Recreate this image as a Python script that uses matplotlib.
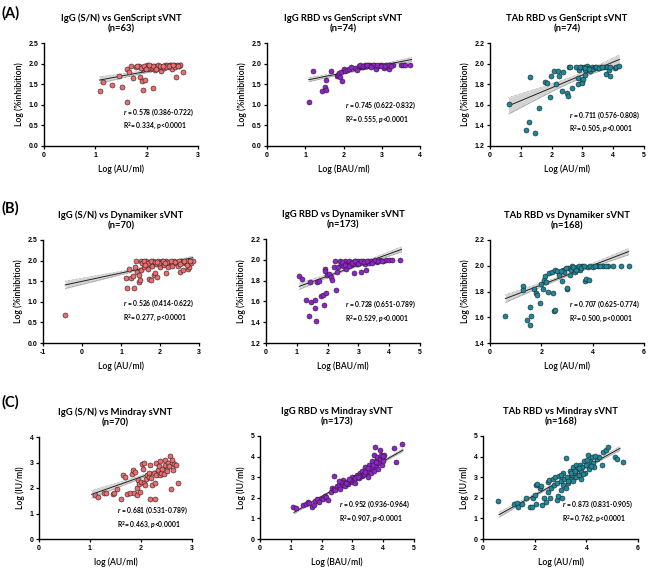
import matplotlib
matplotlib.use('Agg')
import matplotlib.pyplot as plt
import numpy as np

plt.rcParams['font.family'] = ['Lato', 'DejaVu Sans']
plt.rcParams['mathtext.fontset'] = 'custom'
plt.rcParams['mathtext.rm'] = 'Lato:bold'
plt.rcParams['mathtext.it'] = 'Lato:italic:bold'
plt.rcParams['mathtext.bf'] = 'Lato:bold'

# ---- data ----
# row A: GenScript sVNT
a1_x = [1.10, 1.15, 1.33, 1.47, 1.52, 1.62, 1.62, 1.66, 1.70, 1.74, 1.80, 1.85, 1.87, 1.90, 1.93,
        1.96, 1.93, 1.97, 2.00, 2.03, 2.06, 2.08, 2.10, 2.12, 2.15, 2.17, 2.20, 2.22, 2.25, 2.28,
        2.30, 2.33, 2.36, 2.40, 2.43, 2.46, 2.50, 2.53, 2.56, 2.58, 2.60, 2.63, 2.65, 2.70, 1.88,
        1.95, 2.02, 2.13, 2.18, 2.26, 2.38, 2.48, 2.55, 2.62, 1.82, 1.99, 2.05, 2.32, 2.44, 2.52]
a1_y = [1.34, 1.56, 1.47, 1.71, 1.43, 1.06, 1.87, 1.80, 1.95, 1.65, 1.92, 1.94, 1.68, 1.58, 1.35,
        1.61, 1.88, 1.90, 1.97, 1.92, 1.86, 1.95, 1.90, 1.40, 1.95, 1.84, 1.92, 1.97, 1.87, 1.83,
        1.92, 1.90, 1.96, 1.97, 1.92, 1.96, 1.88, 1.97, 1.94, 1.68, 1.97, 1.95, 1.97, 1.80, 1.90,
        1.94, 1.89, 1.93, 1.88, 1.95, 1.92, 1.97, 1.92, 1.93, 1.95, 1.87, 1.97, 1.95, 1.94, 1.96]

a2_x = [1.09, 1.20, 1.45, 1.51, 1.53, 1.55, 1.67, 1.82, 1.86, 1.88, 1.90, 1.93, 1.95, 2.00, 2.05,
        2.10, 2.15, 2.30, 2.35, 2.40, 2.45, 2.50, 2.55, 2.60, 2.65, 2.70, 2.75, 2.80, 2.85, 2.90,
        2.95, 3.00, 3.05, 3.10, 3.15, 3.20, 3.22, 3.30, 3.50, 3.55, 3.60, 3.75, 2.42, 2.52, 2.58,
        2.68, 2.78, 2.88, 2.98, 3.08, 3.18, 3.25, 2.20, 2.62, 2.72]
a2_y = [1.07, 1.82, 1.33, 1.43, 1.36, 1.60, 1.81, 1.70, 1.73, 1.77, 1.68, 1.80, 1.57, 1.87, 1.83,
        1.84, 1.86, 1.90, 1.85, 1.93, 1.95, 1.92, 1.97, 1.94, 1.97, 1.97, 1.94, 1.97, 1.88, 1.95,
        1.97, 1.97, 1.90, 1.97, 1.92, 1.88, 1.96, 1.97, 1.97, 1.96, 1.97, 1.97, 1.96, 1.95, 1.93,
        1.95, 1.96, 1.97, 1.94, 1.95, 1.97, 1.93, 1.91, 1.96, 1.92]

a3_x = [0.63, 1.17, 1.25, 1.30, 1.45, 1.58, 1.78, 1.85, 1.95, 1.97, 2.08, 2.15, 2.20, 2.25, 2.35,
        2.38, 2.50, 2.53, 2.55, 2.60, 2.65, 2.80, 2.85, 2.87, 2.90, 2.95, 3.00, 3.00, 3.02, 3.05,
        3.10, 3.10, 3.15, 3.20, 3.25, 3.30, 3.35, 3.40, 3.50, 3.60, 3.70, 3.75, 3.80, 3.85, 3.88,
        3.90, 4.05, 4.10, 4.20, 2.92, 3.08, 3.22, 3.45, 3.55, 3.65]
a3_y = [1.61, 1.36, 1.43, 1.87, 1.33, 1.57, 1.82, 1.81, 1.68, 1.88, 1.93, 1.80, 1.93, 1.88, 1.73,
        1.92, 1.71, 1.69, 1.97, 1.97, 1.76, 1.97, 1.80, 1.86, 1.94, 1.97, 1.83, 1.81, 1.85, 1.97,
        1.89, 1.94, 1.98, 1.96, 1.93, 1.97, 1.95, 1.97, 1.96, 1.97, 1.97, 1.90, 1.97, 1.94, 1.88,
        1.97, 1.96, 1.97, 1.98, 1.97, 1.96, 1.95, 1.97, 1.96, 1.97]

# row B: Dynamiker sVNT
b1_x = [-0.43, 1.13, 1.15, 1.20, 1.25, 1.30, 1.33, 1.35, 1.38, 1.42, 1.45, 1.47, 1.48, 1.50, 1.52,
        1.55, 1.60, 1.65, 1.70, 1.72, 1.75, 1.78, 1.80, 1.82, 1.85, 1.88, 1.90, 1.92, 1.95, 2.00,
        2.02, 2.05, 2.10, 2.15, 2.15, 2.20, 2.25, 2.30, 2.35, 2.40, 2.45, 2.50, 2.50, 2.55, 2.60,
        2.65, 2.70, 2.72, 2.75, 2.80, 2.85, 1.58, 1.68, 1.78, 1.88, 1.98, 2.08, 2.18, 2.28, 2.38,
        2.48, 2.58, 2.68, 2.78, 1.62, 1.92, 2.12, 2.32, 2.52, 2.62]
b1_y = [0.68, 1.58, 1.33, 1.80, 1.58, 1.62, 1.33, 1.85, 1.98, 1.72, 1.65, 1.48, 1.53, 1.78, 1.98,
        1.93, 1.85, 1.98, 1.80, 1.55, 1.96, 1.53, 1.88, 1.98, 1.65, 1.70, 1.92, 1.60, 1.98, 1.85,
        1.95, 1.98, 1.90, 1.98, 1.70, 1.85, 1.97, 1.92, 1.98, 1.95, 1.88, 1.97, 1.73, 1.98, 1.76,
        1.93, 1.98, 1.80, 1.85, 1.93, 2.00, 1.98, 1.95, 1.98, 1.97, 1.93, 1.98, 1.96, 1.98, 1.97,
        1.98, 1.96, 1.90, 1.98, 1.90, 1.96, 1.94, 1.88, 1.92, 1.98]

b2_x = [1.08, 1.18, 1.30, 1.40, 1.43, 1.45, 1.58, 1.60, 1.62, 1.65, 1.72, 1.80, 1.85, 1.88, 1.90,
        1.92, 1.95, 1.97, 2.05, 2.10, 2.15, 2.20, 2.25, 2.28, 2.30, 2.35, 2.40, 2.45, 2.50, 2.55,
        2.60, 2.65, 2.70, 2.75, 2.80, 2.85, 2.90, 2.95, 3.00, 3.05, 3.10, 3.15, 3.20, 3.25, 3.30,
        3.35, 3.40, 3.50, 3.60, 3.70, 3.80, 3.90, 4.00, 4.10, 4.35, 2.48, 2.58, 2.68, 2.78, 2.88,
        2.98, 3.08, 3.18, 3.28, 3.45, 3.55, 3.65, 3.75]
b2_y = [1.84, 1.82, 1.61, 1.46, 1.79, 1.59, 1.61, 1.54, 1.41, 1.79, 1.80, 1.65, 1.66, 1.57, 1.91,
        1.89, 1.68, 1.85, 1.86, 1.83, 1.81, 1.93, 1.99, 1.71, 1.88, 1.93, 1.99, 1.96, 1.94, 1.99,
        1.91, 1.97, 1.99, 1.95, 1.98, 1.87, 1.99, 1.96, 1.99, 1.97, 1.88, 1.99, 1.96, 1.90, 1.99,
        1.97, 1.99, 1.99, 1.98, 2.00, 1.99, 2.00, 2.00, 2.00, 2.00, 1.98, 1.95, 1.94, 1.97, 1.99,
        1.96, 1.99, 1.98, 1.99, 1.97, 2.00, 1.99, 1.99]

b3_x = [0.60, 1.28, 1.28, 1.45, 1.55, 1.55, 1.58, 1.70, 1.80, 1.85, 1.95, 2.00, 2.05, 2.10, 2.15,
        2.20, 2.25, 2.30, 2.40, 2.45, 2.50, 2.55, 2.55, 2.60, 2.70, 2.80, 2.85, 2.90, 3.00, 3.00,
        3.05, 3.10, 3.15, 3.20, 3.30, 3.40, 3.50, 3.60, 3.70, 3.75, 3.80, 3.85, 3.90, 4.00, 4.20,
        4.40, 4.60, 4.80, 5.10, 5.40, 2.75, 2.95, 3.25, 3.35, 3.45, 3.55, 3.65, 4.10, 4.30, 4.50]
b3_y = [1.61, 1.84, 1.81, 1.58, 1.54, 1.68, 1.61, 1.82, 1.79, 1.77, 1.71, 1.86, 1.82, 1.89, 1.92,
        1.87, 1.80, 1.94, 1.95, 1.79, 1.65, 1.66, 1.97, 1.96, 1.93, 1.88, 1.97, 1.95, 1.82, 1.83,
        1.98, 1.93, 1.97, 2.00, 1.95, 1.99, 1.97, 2.00, 1.88, 1.90, 1.99, 1.89, 2.00, 1.99, 2.00,
        2.00, 2.00, 2.00, 2.00, 2.00, 1.96, 1.98, 1.99, 1.97, 2.00, 1.98, 2.00, 2.00, 2.00, 2.00]

# row C: Mindray sVNT
c1_x = [1.10, 1.15, 1.28, 1.32, 1.45, 1.48, 1.52, 1.60, 1.65, 1.68, 1.72, 1.78, 1.82, 1.85, 1.87,
        1.88, 1.92, 1.93, 1.95, 1.97, 1.98, 2.00, 2.02, 2.03, 2.05, 2.05, 2.08, 2.10, 2.12, 2.15,
        2.15, 2.18, 2.18, 2.20, 2.22, 2.25, 2.27, 2.28, 2.30, 2.30, 2.33, 2.35, 2.37, 2.38, 2.40,
        2.42, 2.45, 2.47, 2.48, 2.50, 2.52, 2.55, 2.57, 2.58, 2.60, 2.62, 2.65, 2.68, 2.72]
c1_y = [1.72, 1.65, 1.82, 1.80, 1.75, 1.82, 1.95, 1.55, 2.50, 2.42, 1.78, 1.80, 2.55, 2.72, 1.80,
        2.62, 1.72, 2.00, 2.30, 2.15, 1.85, 2.25, 2.95, 2.75, 3.00, 2.20, 2.10, 2.35, 2.50, 2.60,
        2.45, 1.55, 2.90, 2.40, 2.10, 2.60, 2.20, 1.55, 3.00, 2.50, 2.70, 2.85, 2.50, 3.05, 2.60,
        2.75, 2.55, 2.90, 3.10, 2.65, 3.00, 2.85, 3.25, 1.95, 3.10, 2.70, 2.95, 2.90, 2.20]

c2_x = [1.08, 1.18, 1.40, 1.50, 1.55, 1.60, 1.68, 1.75, 1.80, 1.85, 1.90, 2.00, 2.05, 2.10, 2.15,
        2.20, 2.30, 2.35, 2.40, 2.40, 2.45, 2.50, 2.55, 2.60, 2.65, 2.70, 2.70, 2.75, 2.80, 2.85,
        2.90, 2.95, 3.00, 3.00, 3.05, 3.10, 3.10, 3.15, 3.20, 3.25, 3.30, 3.30, 3.35, 3.40, 3.45,
        3.50, 3.50, 3.55, 3.60, 3.60, 3.65, 3.65, 3.70, 3.70, 3.72, 3.75, 3.75, 3.80, 3.80, 3.82,
        3.85, 3.88, 3.90, 3.92, 3.95, 4.00, 4.00, 4.02, 4.35, 4.40, 4.62, 2.62, 2.78, 2.92, 3.08,
        3.22, 3.38, 3.52, 3.68, 3.78, 3.98, 2.58, 2.88, 3.18, 3.42]
c2_y = [1.55, 1.52, 1.65, 1.70, 1.80, 1.75, 1.55, 1.65, 1.85, 1.95, 1.80, 2.00, 1.95, 2.10, 2.05,
        1.90, 2.30, 2.50, 2.45, 3.05, 2.40, 2.55, 2.60, 2.45, 2.70, 2.85, 2.60, 2.55, 2.75, 2.65,
        2.80, 2.90, 2.75, 3.00, 2.85, 3.00, 2.70, 3.10, 2.95, 3.20, 3.05, 3.30, 3.10, 3.50, 3.20,
        3.30, 3.00, 3.60, 3.40, 3.20, 3.80, 3.50, 3.30, 4.10, 4.45, 3.70, 3.50, 3.90, 4.00, 3.40,
        3.70, 4.30, 3.90, 4.10, 3.60, 4.00, 3.80, 4.10, 4.40, 3.75, 4.62, 2.75, 2.70, 2.85, 2.95,
        3.05, 3.15, 3.45, 3.60, 3.75, 4.05, 2.80, 2.90, 3.00, 3.25]

c3_x = [0.60, 1.20, 1.30, 1.35, 1.50, 1.65, 1.80, 1.90, 1.95, 2.00, 2.05, 2.05, 2.10, 2.20, 2.25,
        2.30, 2.35, 2.45, 2.50, 2.50, 2.55, 2.60, 2.65, 2.70, 2.75, 2.80, 2.85, 2.85, 2.90, 2.95,
        3.00, 3.00, 3.05, 3.10, 3.10, 3.15, 3.20, 3.20, 3.25, 3.30, 3.35, 3.40, 3.45, 3.50, 3.50,
        3.55, 3.60, 3.60, 3.65, 3.70, 3.75, 3.80, 3.80, 3.85, 3.90, 3.95, 4.00, 4.05, 4.10, 4.15,
        4.20, 4.25, 4.30, 4.40, 4.50, 4.60, 4.65, 4.75, 4.85, 5.10, 5.20, 5.40, 3.02, 3.28, 3.42,
        3.58, 3.72, 3.88, 4.02, 4.18, 4.35]
c3_y = [1.83, 1.70, 1.75, 1.55, 1.72, 2.00, 1.55, 1.55, 2.00, 2.15, 1.70, 2.60, 2.65, 2.50, 2.55,
        1.65, 2.00, 1.80, 2.75, 2.30, 2.85, 2.00, 2.50, 2.90, 2.60, 3.00, 1.90, 2.70, 2.10, 3.05,
        2.40, 2.80, 2.00, 3.20, 2.60, 2.90, 3.95, 2.50, 3.00, 2.70, 3.30, 2.90, 3.10, 3.50, 2.80,
        3.20, 3.60, 3.00, 3.40, 3.10, 3.60, 3.30, 2.90, 3.50, 3.80, 3.20, 3.60, 4.10, 3.40, 3.80,
        4.00, 3.70, 3.50, 3.90, 4.00, 3.60, 4.20, 4.30, 4.45, 4.00, 3.90, 3.75, 3.10, 2.80, 3.20,
        3.30, 3.45, 3.15, 3.85, 3.55, 4.05]

# regression line ends (x0, x1, y0, y1) and 95% band half-width (left, narrowest, right)
fits = {
    'a1': (1.08, 2.70, 1.60, 1.97, (0.08, 0.03, 0.06)),
    'a2': (1.09, 3.78, 1.61, 2.10, (0.05, 0.02, 0.05)),
    'a3': (0.60, 4.20, 1.59, 2.04, (0.08, 0.025, 0.045)),
    'b1': (-0.43, 2.84, 1.41, 2.07, (0.09, 0.02, 0.04)),
    'b2': (1.08, 4.40, 1.745, 2.10, (0.03, 0.01, 0.025)),
    'b3': (0.60, 5.40, 1.745, 2.11, (0.03, 0.01, 0.025)),
    'c1': (1.03, 2.69, 1.75, 2.92, (0.15, 0.06, 0.12)),
    'c2': (1.10, 4.64, 1.29, 4.32, (0.07, 0.03, 0.07)),
    'c3': (0.62, 5.30, 1.18, 4.40, (0.12, 0.04, 0.10)),
}

titles = {
    'a1': 'IgG (S/N) vs GenScript sVNT\n(n=63)', 'a2': 'IgG RBD vs GenScript sVNT\n(n=74)',
    'a3': 'TAb RBD vs GenScript sVNT\n(n=74)',
    'b1': 'IgG (S/N) vs Dynamiker sVNT\n(n=70)', 'b2': 'IgG RBD vs Dynamiker sVNT\n(n=173)',
    'b3': 'TAb RBD vs Dynamiker sVNT\n(n=168)',
    'c1': 'IgG (S/N) vs Mindray sVNT\n(n=70)', 'c2': 'IgG RBD vs Mindray sVNT\n(n=173)',
    'c3': 'TAb RBD vs Mindray sVNT\n(n=168)',
}
stats_r = {'a1': '0.578 (0.386-0.722)', 'a2': '0.745 (0.622-0.832)', 'a3': '0.711 (0.576-0.808)',
           'b1': '0.526 (0.414-0.622)', 'b2': '0.728 (0.651-0.789)', 'b3': '0.707 (0.625-0.774)',
           'c1': '0.681 (0.531-0.789)', 'c2': '0.952 (0.936-0.964)', 'c3': '0.873 (0.831-0.905)'}
stats_r2 = {'a1': '0.334', 'a2': '0.555', 'a3': '0.505', 'b1': '0.277', 'b2': '0.529',
            'b3': '0.500', 'c1': '0.463', 'c2': '0.907', 'c3': '0.762'}
p_italic = {'a1': False, 'a2': True, 'a3': True, 'b1': False, 'b2': True, 'b3': False,
            'c1': True, 'c2': True, 'c3': False}
# vertical centre (axes fraction) of the stats block
stats_y = {'a1': 0.26, 'a2': 0.325, 'a3': 0.23, 'b1': 0.315, 'b2': 0.30, 'b3': 0.30,
           'c1': 0.21, 'c2': 0.265, 'c3': 0.265}

xlabels = {'a1': 'Log (AU/ml)', 'a2': 'Log (BAU/ml)', 'a3': 'Log (AU/ml)',
           'b1': 'Log (AU/ml)', 'b2': 'Log (BAU/ml)', 'b3': 'Log (AU/ml)',
           'c1': 'log (AU/ml)', 'c2': 'Log (BAU/ml)', 'c3': 'Log (AU/ml)'}
ylabel_row = {'a': 'Log (%inhibition)', 'b': 'Log (%inhibition)', 'c': 'Log (IU/ml)'}

xticks = {'a1': [0, 1, 2, 3], 'a2': [0, 1, 2, 3, 4], 'a3': [0, 1, 2, 3, 4, 5],
          'b1': [-1, 0, 1, 2, 3], 'b2': [0, 1, 2, 3, 4, 5], 'b3': [0, 2, 4, 6],
          'c1': [0, 1, 2, 3], 'c2': [0, 1, 2, 3, 4, 5], 'c3': [0, 2, 4, 6]}
yticks = {'a1': [0.0, 0.5, 1.0, 1.5, 2.0, 2.5], 'a2': [0.0, 0.5, 1.0, 1.5, 2.0, 2.5],
          'a3': [1.2, 1.4, 1.6, 1.8, 2.0, 2.2],
          'b1': [0.0, 0.5, 1.0, 1.5, 2.0, 2.5], 'b2': [1.2, 1.4, 1.6, 1.8, 2.0, 2.2],
          'b3': [1.4, 1.6, 1.8, 2.0, 2.2],
          'c1': [0, 1, 2, 3, 4], 'c2': [0, 1, 2, 3, 4, 5], 'c3': [0, 1, 2, 3, 4, 5]}

data = {'a1': (a1_x, a1_y), 'a2': (a2_x, a2_y), 'a3': (a3_x, a3_y),
        'b1': (b1_x, b1_y), 'b2': (b2_x, b2_y), 'b3': (b3_x, b3_y),
        'c1': (c1_x, c1_y), 'c2': (c2_x, c2_y), 'c3': (c3_x, c3_y)}

col_colors = ['#EE6B6E', '#9421D0', '#1B8A9C']

# axes boxes in pixels (left, top, right, bottom)
boxes = {'a1': (44, 43, 198, 146), 'a2': (267, 43, 420, 146), 'a3': (490, 43, 644, 146),
         'b1': (43, 240, 199, 343), 'b2': (266, 239, 420, 343), 'b3': (490, 240, 644, 343),
         'c1': (39, 437, 192, 539), 'c2': (260, 436, 414, 539), 'c3': (483, 436, 638, 539)}

W, H = 668, 575
fig = plt.figure(figsize=(W / 100, H / 100), dpi=100)

for key in ['a1', 'a2', 'a3', 'b1', 'b2', 'b3', 'c1', 'c2', 'c3']:
    l, t, r, b = boxes[key]
    ax = fig.add_axes([l / W, 1 - b / H, (r - l) / W, (b - t) / H])
    x, y = np.asarray(data[key][0]), np.asarray(data[key][1])
    col = col_colors[int(key[1]) - 1]

    x0, x1, y0, y1, (hl, hm, hr) = fits[key]
    xs = np.linspace(x0, x1, 100)
    ys = y0 + (y1 - y0) * (xs - x0) / (x1 - x0)
    xm = x.mean()
    kl = (hl**2 - hm**2) / (x0 - xm)**2
    kr = (hr**2 - hm**2) / (x1 - xm)**2
    k = np.where(xs < xm, kl, kr)
    hw = np.sqrt(hm**2 + k * (xs - xm)**2)
    ax.fill_between(xs, ys - hw, ys + hw, color='#d4d4d4', lw=0, zorder=1)
    ax.plot(xs, ys - hw, color='#777777', lw=0.5, ls=(0, (1, 1)), zorder=2)
    ax.plot(xs, ys + hw, color='#777777', lw=0.5, ls=(0, (1, 1)), zorder=2)
    ax.plot(xs, ys, color='#222222', lw=0.7, zorder=3)

    ax.scatter(x, y, s=13, c=col, edgecolors='#222222', linewidths=0.4, zorder=4)

    ax.set_xlim(xticks[key][0], xticks[key][-1])
    ax.set_ylim(yticks[key][0], yticks[key][-1])
    ax.set_xticks(xticks[key])
    ax.set_yticks(yticks[key])
    if key[0] == 'c':
        ylabs = [str(v) for v in yticks[key]]
    else:
        ylabs = ['%.1f' % v for v in yticks[key]]
    ax.set_yticklabels(ylabs, family='Liberation Sans', fontweight='bold', fontsize=5)
    ax.set_xticklabels([str(v) for v in xticks[key]], family='Liberation Sans',
                       fontweight='bold', fontsize=5)
    for s in ['top', 'right']:
        ax.spines[s].set_visible(False)
    for s in ['left', 'bottom']:
        ax.spines[s].set_linewidth(1.0)
    ax.tick_params(length=2.5, width=0.9, pad=1.5)

    ax.set_xlabel(xlabels[key], fontsize=6.2, fontweight='semibold', labelpad=4)
    ax.set_ylabel(ylabel_row[key[0]], fontsize=6.2, fontweight='semibold', labelpad=3)
    ax.set_title(titles[key], fontsize=6.8, fontweight='bold', pad=8, linespacing=1.3)

    ptxt = '$p$' if p_italic[key] else 'p'
    ax.text(0.51, stats_y[key],
            '$r$ = ' + stats_r[key] + '\nR$^2$= ' + stats_r2[key] + ', ' + ptxt + '<0.0001',
            transform=ax.transAxes, fontsize=4.9, fontweight='bold', va='center',
            linespacing=1.45)

for lab, ypix in [('(A)', 13), ('(B)', 208), ('(C)', 402)]:
    fig.text(2 / W, 1 - ypix / H, lab, fontsize=10.5, fontweight='bold', va='center', ha='left')

fig.savefig('out.png', dpi=100)
